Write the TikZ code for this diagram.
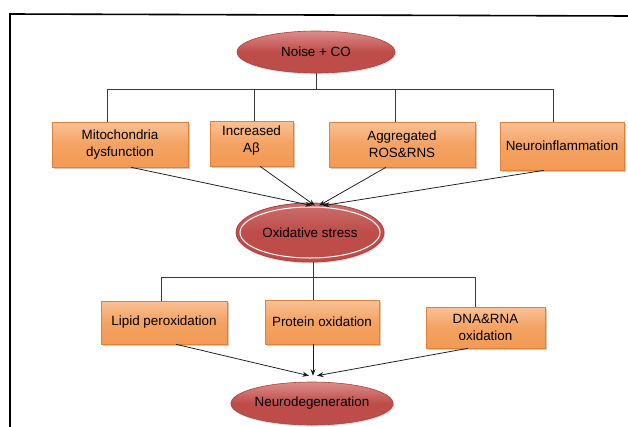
\documentclass[tikz,border=0pt]{standalone}
\usepackage{fontspec}
\setmainfont{Liberation Sans}
\usetikzlibrary{arrows.meta,calc,shapes.geometric,shadows}
\definecolor{boxtop}{HTML}{F9C196}
\definecolor{boxbot}{HTML}{F39A55}
\definecolor{boxedge}{HTML}{E0813A}
\definecolor{ovtop}{HTML}{DC8D8A}
\definecolor{ovbot}{HTML}{BE4C49}
\definecolor{ovedge}{HTML}{A94340}
\definecolor{treeline}{HTML}{3A3A3A}
\tikzset{
  orangebox/.style={rectangle, draw=boxedge, line width=0.6pt, top color=boxtop, bottom color=boxbot,
    middle color=boxbot!80!boxtop, align=center, inner sep=2pt,
    font=\fontsize{13.4}{17}\selectfont, text=black,
    drop shadow={shadow xshift=1.5pt, shadow yshift=-1.5pt, opacity=0.35, fill=boxedge!70!black}},
  redoval/.style={ellipse, draw=ovedge, line width=0.6pt, top color=ovtop, bottom color=ovbot,
    middle color=ovbot, inner sep=0pt, font=\fontsize{13.4}{16}\selectfont, text=black,
    drop shadow={shadow xshift=1pt, shadow yshift=-1.5pt, opacity=0.25}},
  treelink/.style={draw=treeline, line width=0.7pt},
  arrowlink/.style={draw=black!90, line width=0.75pt, -{Stealth[length=6.5pt,width=5pt]}},
  framestyle/.style={draw=black, line width=1.6pt}
}
\begin{document}
\begin{tikzpicture}[x=1pt,y=-1pt]
\useasboundingbox (0,0) rectangle (628,426);
% frame
\coordinate (f1) at (10,430);
\coordinate (f2) at (10,14);
\coordinate (f3) at (630,16);
\draw[framestyle] (f1) -- (f2) -- (f3);

% nodes
\node[redoval, minimum width=158pt, minimum height=42pt] (noise) at (316,52) {Noise + CO};
\node[orangebox, minimum width=136pt, minimum height=45pt] (mito) at (120,144.5) {Mitochondria\\dysfunction};
\node[orangebox, minimum width=83pt, minimum height=45pt] (abeta) at (251.5,143.5) {Increased\\Aβ\vphantom{g}\\[-8pt]};
\node[orangebox, minimum width=146pt, minimum height=45pt] (agg) at (402,144.5) {Aggregated\\ROS\&RNS};
\node[orangebox, minimum width=124pt, minimum height=48pt] (neuroinf) at (562,146) {Neuroinflammation};
\node[ellipse, draw=ovedge, line width=0.8pt, top color=ovbot!80!white, bottom color=ovbot, middle color=ovbot,
      minimum width=148pt, minimum height=59pt, inner sep=0pt, font=\fontsize{13.4}{16}\selectfont,
      drop shadow={shadow xshift=1pt, shadow yshift=-1.5pt, opacity=0.25}] (ox) at (310,232.5) {Oxidative stress};
\node[ellipse, draw=white, line width=1pt, minimum width=140pt, minimum height=51pt, inner sep=0pt] (oxring) at (ox.center) {};
\node[orangebox, minimum width=126pt, minimum height=43pt] (lipid) at (164,322.5) {Lipid peroxidation};
\node[orangebox, minimum width=114pt, minimum height=44pt] (protein) at (322,322) {Protein oxidation};
\node[orangebox, minimum width=119pt, minimum height=41pt] (dna) at (485.5,327.5) {DNA\&RNA\\oxidation};
\node[redoval, minimum width=158pt, minimum height=43pt] (neurodeg) at (312,403.5) {Neurodegeneration};

% upper tree
\coordinate (bus0) at (noise.south |- 0,89);
\coordinate (b1) at (107,89);
\coordinate (b2) at (254,89);
\coordinate (b3) at (395,89);
\coordinate (b4) at (553,89);
\draw[treelink] (noise.south) -- (bus0);
\draw[treelink] (b1) -- (b4);
\draw[treelink] (b1) -- (b1 |- mito.north);
\draw[treelink] (b2) -- (b2 |- abeta.north);
\draw[treelink] (b3) -- (b3 |- agg.north);
\draw[treelink] (b4) -- (b4 |- neuroinf.north);

% arrows into oxidative stress
\coordinate (m1) at (131,0);
\coordinate (m2) at (260,0);
\coordinate (m3) at (386,0);
\coordinate (m4) at (544,0);
\draw[arrowlink] (m1 |- mito.south) -- ($(ox.north)+(2,3)$);
\draw[arrowlink] (m2 |- abeta.south) -- ($(ox.north)+(5,3)$);
\draw[arrowlink] (m3 |- agg.south) -- ($(ox.north)+(9,3)$);
\draw[arrowlink] (m4 |- neuroinf.south) -- ($(ox.north)+(13,3)$);

% lower tree
\coordinate (c0) at (313,277);
\coordinate (c1) at (161,277);
\coordinate (c3) at (475,277);
\draw[treelink] (c0 |- ox.south) -- (c0 |- protein.north);
\draw[treelink] (c1) -- (c3);
\draw[treelink] (c1) -- (c1 |- lipid.north);
\draw[treelink] (c3) -- (c3 |- dna.north);

% arrows into neurodegeneration
\coordinate (n1) at (176,0);
\coordinate (n2) at (313,0);
\coordinate (n3) at (468,0);
\draw[arrowlink] (n1 |- lipid.south) -- ($(neurodeg.north)+(-3,-6)$);
\draw[arrowlink] (n2 |- protein.south) -- ($(neurodeg.north)+(1,-6)$);
\draw[arrowlink] (n3 |- dna.south) -- ($(neurodeg.north)+(5,-6)$);
\end{tikzpicture}
\end{document}
